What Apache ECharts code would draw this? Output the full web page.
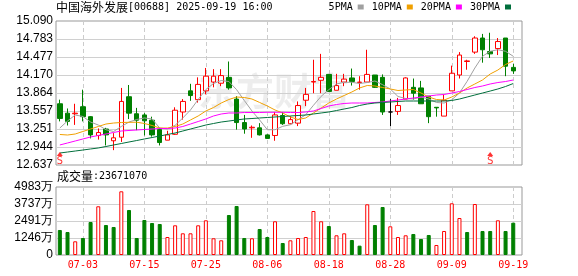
<!DOCTYPE html>
<html><head><meta charset="utf-8">
<script src="https://cdn.jsdelivr.net/npm/echarts@6/dist/echarts.min.js"></script>
<style>html,body{margin:0;padding:0;background:#fff}#c{width:578px;height:276px}</style>
</head><body><div id="c"></div>
<script>
// ---------- data ----------
const stockName = '中国海外发展';
const stockCode = '[00688]';
const dateTime = '2025-09-19 16:00';
const lastVolume = '23671070';

const dates = ['06-27','06-30','07-02','07-03','07-04','07-07','07-08','07-09','07-10','07-11',
  '07-14','07-15','07-16','07-17','07-18','07-21','07-22','07-23','07-24','07-25',
  '07-28','07-29','07-30','07-31','08-01','08-04','08-05','08-06','08-07','08-08',
  '08-11','08-12','08-13','08-14','08-15','08-18','08-19','08-20','08-21','08-22',
  '08-25','08-26','08-27','08-28','08-29','09-01','09-02','09-03','09-04','09-05',
  '09-08','09-09','09-10','09-11','09-12','09-15','09-16','09-17','09-18','09-19'];

const opens  = [13.68,13.52,13.51,13.63,13.46,13.14,13.25,13.05,13.11,13.80,
  13.51,13.49,13.40,13.24,13.06,13.16,13.54,13.90,13.75,13.90,
  14.05,14.03,14.13,13.76,13.36,13.27,13.27,13.15,13.14,13.48,
  13.34,13.35,13.74,14.05,14.08,14.18,13.91,14.05,14.12,14.04,
  14.05,14.17,14.13,13.54,13.55,13.76,13.96,13.95,13.81,13.62,
  13.47,13.90,14.17,14.40,14.56,14.80,14.57,14.62,14.80,14.30];
const closes = [13.43,13.38,13.52,13.46,13.15,13.19,13.15,13.10,13.72,13.52,
  13.40,13.39,13.15,13.02,13.15,13.57,13.72,13.82,14.01,14.15,
  14.15,14.16,13.95,13.36,13.25,13.28,13.15,13.09,13.49,13.34,
  13.41,13.65,13.84,14.06,14.13,13.89,13.99,14.10,14.06,14.05,
  14.18,13.96,13.54,13.54,13.65,14.12,13.86,13.68,13.46,13.61,
  13.74,14.20,14.51,14.41,14.80,14.60,14.53,14.74,14.32,14.24];
const lows   = [13.38,13.31,13.32,13.38,13.09,13.07,12.97,12.89,13.03,13.42,
  13.23,13.14,13.12,12.97,13.06,13.15,13.41,13.73,13.70,13.84,
  13.96,13.98,13.92,13.24,13.17,13.10,13.14,13.08,13.05,13.32,
  13.33,13.30,13.64,13.86,13.86,13.89,13.91,13.98,13.99,13.92,
  14.05,13.95,13.49,13.30,13.49,13.76,13.75,13.68,13.35,13.46,
  13.47,13.90,14.11,14.26,14.53,14.38,14.46,14.51,14.15,14.19];
const highs  = [13.75,13.60,13.68,13.92,13.47,13.26,13.27,13.18,13.95,14.00,
  13.61,13.52,13.46,13.27,13.22,13.62,13.76,14.02,14.13,14.29,
  14.27,14.27,14.40,13.81,13.49,13.31,13.35,13.16,13.54,13.54,
  13.47,13.72,13.95,14.43,14.53,14.18,14.19,14.19,14.28,14.15,
  14.60,14.17,14.18,13.76,13.78,14.13,14.11,14.07,13.81,13.62,
  13.84,14.33,14.56,14.43,14.83,14.87,14.89,14.80,14.80,14.36];

// volume in 万股
const volumes = [1832,1685,1004,1246,2418,3569,2198,2052,4668,3298,
  1246,2565,2345,2272,1319,2176,1590,1590,2176,2543,
  1224,1077,2931,3591,1246,1224,1905,1319,2470,879,
  1077,1246,1319,3224,2470,2125,1444,1590,1099,684,
  3715,2198,3517,2103,1319,1444,1539,1172,1466,733,
  1759,3788,2711,1685,3737,1759,1759,2543,1759,2367];

const ma5  = [13.267,13.387,13.489,13.463,13.369,13.318,13.238,13.208,13.293,13.369,
  13.412,13.438,13.421,13.267,13.250,13.313,13.438,13.574,13.753,13.923,
  14.025,14.076,14.059,13.920,13.736,13.557,13.404,13.238,13.238,13.296,
  13.323,13.409,13.494,13.654,13.807,13.920,14.017,14.046,14.046,14.025,
  14.042,14.068,14.005,13.932,13.804,13.770,13.761,13.795,13.761,13.702,
  13.693,13.749,13.863,14.063,14.289,14.489,14.574,14.601,14.574,14.489];
const ma10 = [13.157,13.148,13.165,13.208,13.250,13.293,13.335,13.352,13.361,13.364,
  13.366,13.344,13.310,13.267,13.267,13.293,13.335,13.404,13.472,13.557,
  13.616,13.693,13.753,13.795,13.787,13.761,13.702,13.642,13.574,13.523,
  13.455,13.412,13.438,13.523,13.608,13.693,13.761,13.821,13.881,13.949,
  13.991,13.983,13.957,13.932,13.906,13.915,13.923,13.863,13.795,13.753,
  13.744,13.795,13.863,13.949,14.017,14.085,14.187,14.255,14.349,14.409];
const ma20 = [12.978,13.012,13.046,13.080,13.114,13.140,13.165,13.191,13.216,13.225,
  13.233,13.242,13.250,13.259,13.259,13.267,13.293,13.335,13.378,13.421,
  13.472,13.506,13.523,13.523,13.531,13.531,13.531,13.535,13.535,13.535,
  13.531,13.531,13.540,13.557,13.599,13.642,13.668,13.685,13.693,13.693,
  13.693,13.702,13.710,13.727,13.744,13.761,13.778,13.795,13.812,13.829,
  13.838,13.863,13.889,13.923,13.957,13.983,14.017,14.042,14.059,14.085];
const ma30 = [12.841,12.858,12.875,12.892,12.910,12.927,12.952,12.978,13.003,13.029,
  13.054,13.080,13.105,13.131,13.157,13.182,13.216,13.250,13.284,13.318,
  13.344,13.369,13.386,13.404,13.421,13.429,13.438,13.446,13.455,13.463,
  13.472,13.480,13.489,13.506,13.523,13.540,13.565,13.591,13.616,13.651,
  13.676,13.693,13.702,13.710,13.719,13.727,13.727,13.727,13.727,13.727,
  13.727,13.736,13.761,13.795,13.829,13.863,13.897,13.932,13.974,14.025];

const priceTickLabels = ['12.637','12.944','13.251','13.557','13.864','14.170','14.477','14.783','15.090'];
const volTickLabels = ['0','1246万','2491万','3737万','4983万'];
const dateTickLabels = ['07-03','07-15','07-25','08-06','08-18','08-28','09-09','09-19'];
const signalIndex = [0, 56];
const maNames = ['5PMA','10PMA','20PMA','30PMA'];

// ---------- styling / layout ----------
const RED = '#ff0000', GREEN = '#008000', DOJI = '#000000';
const maColors = ['#a0a0a0', '#f0a000', '#ff00ff', '#006f3c'];
const MONO = 'DejaVu Sans Mono';
const CJK = 'Noto Sans CJK SC';
const SANS = 'Liberation Sans';
const L = 56, PT = 21, PH = 144, VT = 187, VH = 68, FW = 466, DW = 461.1;

const priceMin = parseFloat(priceTickLabels[0]);
const priceMax = parseFloat(priceTickLabels[priceTickLabels.length - 1]);
const volMax = parseFloat(volTickLabels[volTickLabels.length - 1]);

const candleData = dates.map((d, i) => {
  const o = opens[i], c = closes[i];
  let fill, stroke;
  if (c > o) { fill = '#ffffff'; stroke = RED; }
  else if (c < o) { fill = GREEN; stroke = GREEN; }
  else { fill = DOJI; stroke = DOJI; }
  return { value: [o, c, lows[i], highs[i]],
    itemStyle: { color: fill, color0: fill, borderColor: stroke, borderColor0: stroke, borderColorDoji: stroke } };
});
const volData = volumes.map((v, i) => {
  const prev = i > 0 ? closes[i - 1] : opens[i];
  const up = closes[i] >= prev;
  return { value: v, itemStyle: up ? { color: '#ffffff', borderColor: RED, borderWidth: 1 }
                                    : { color: GREEN, borderColor: GREEN, borderWidth: 1 } };
});
const showDate = (idx, val) => dateTickLabels.indexOf(dates[idx]) >= 0;

const frameGrid = { show: true, borderColor: '#999999', borderWidth: 1, backgroundColor: 'transparent' };
const titleRich = {
  a: { fontFamily: CJK, fontSize: 12, fontWeight: 'normal', color: '#000' },
  b: { fontFamily: MONO, fontSize: 10, fontWeight: 'normal', color: '#000' }
};

const option = {
  animation: false,
  title: [{
    text: '{a|' + stockName + '}{b|' + stockCode + ' ' + dateTime + '}',
    left: 56, top: 1, padding: 0,
    textStyle: { fontWeight: 'normal', rich: titleRich }
  }, {
    text: '{a|成交量}{b|:' + lastVolume + '}',
    left: 57, top: 170, padding: 0,
    textStyle: { fontWeight: 'normal', rich: titleRich }
  }],
  legend: {
    data: maNames.map((n, k) => ({ name: n, icon: 'rect', itemStyle: { color: maColors[k] } })),
    right: 67, top: 2, padding: 0, align: 'right', itemWidth: 6, itemHeight: 5, itemGap: 8,
    textStyle: { fontFamily: MONO, fontSize: 10, color: '#000' }, selectedMode: false
  },
  graphic: [{
    type: 'text', left: 198, top: 72, z: 0, silent: true,
    style: { text: '东方财富', font: 'bold 38px "Noto Sans CJK SC"', fill: 'rgba(0,0,0,0.07)' }
  }],
  grid: [
    Object.assign({ left: L, top: PT, width: FW, height: PH }, frameGrid),
    { left: L, top: PT, width: DW, height: PH },
    Object.assign({ left: L, top: VT, width: FW, height: VH }, frameGrid),
    { left: L, top: VT, width: DW, height: VH }
  ],
  xAxis: [
    { gridIndex: 0, type: 'value', min: 0, max: 1, show: false },
    { gridIndex: 1, type: 'category', data: dates, boundaryGap: true,
      axisLine: { show: false }, axisTick: { show: false }, axisLabel: { show: false },
      splitLine: { show: true, interval: showDate, alignWithLabel: true, lineStyle: { color: '#cccccc', type: [4, 3], width: 1 } } },
    { gridIndex: 2, type: 'value', min: 0, max: 1, show: false },
    { gridIndex: 3, type: 'category', data: dates, boundaryGap: true,
      axisLine: { show: false }, axisTick: { show: false },
      axisLabel: { show: true, interval: showDate, color: RED, fontFamily: MONO, fontSize: 10, margin: 5 },
      splitLine: { show: true, interval: showDate, alignWithLabel: true, lineStyle: { color: '#cccccc', type: [4, 3], width: 1 } } }
  ],
  yAxis: [
    { gridIndex: 0, type: 'value', min: 0, max: priceTickLabels.length - 1, interval: 1,
      axisLine: { show: false }, axisTick: { show: false },
      axisLabel: { formatter: v => priceTickLabels[Math.round(v)], color: '#000', fontFamily: SANS, fontSize: 12, margin: 3 },
      splitLine: { show: true, showMinLine: false, showMaxLine: false, lineStyle: { color: '#d0d0d0', width: 1 } } },
    { gridIndex: 1, type: 'value', min: priceMin, max: priceMax, show: false, splitLine: { show: false } },
    { gridIndex: 2, type: 'value', min: 0, max: volTickLabels.length - 1, interval: 1,
      axisLine: { show: false }, axisTick: { show: false },
      axisLabel: { formatter: v => volTickLabels[Math.round(v)], color: '#000', fontFamily: SANS, fontSize: 12, margin: 3 },
      splitLine: { show: true, showMinLine: false, showMaxLine: false, lineStyle: { color: '#d0d0d0', width: 1 } } },
    { gridIndex: 3, type: 'value', min: 0, max: volMax, show: false, splitLine: { show: false } }
  ],
  series: [
    { type: 'candlestick', xAxisIndex: 1, yAxisIndex: 1, data: candleData, barWidth: 5, z: 2,
      itemStyle: { borderWidth: 1 } },
    ...[ma5, ma10, ma20, ma30].map((arr, k) => ({
      name: maNames[k], type: 'line', xAxisIndex: 1, yAxisIndex: 1, data: arr, z: 3,
      symbol: 'none', showSymbol: false, silent: true,
      lineStyle: { color: maColors[k], width: 1 }, itemStyle: { color: maColors[k] }
    })),
    { type: 'scatter', xAxisIndex: 1, yAxisIndex: 1, clip: false, z: 4, silent: true,
      data: signalIndex.map(i => [i, priceMin]),
      symbol: 'triangle', symbolSize: [6, 4], symbolOffset: [0, -11], itemStyle: { color: RED },
      label: { show: true, formatter: 'S', position: 'bottom', distance: 0, color: RED, fontFamily: MONO, fontSize: 11 } },
    { type: 'bar', xAxisIndex: 3, yAxisIndex: 3, data: volData, barWidth: 4, z: 2 }
  ]
};
const chart = echarts.init(document.getElementById('c'), null, { renderer: 'canvas' });
chart.setOption(option);
</script>
</body></html>
